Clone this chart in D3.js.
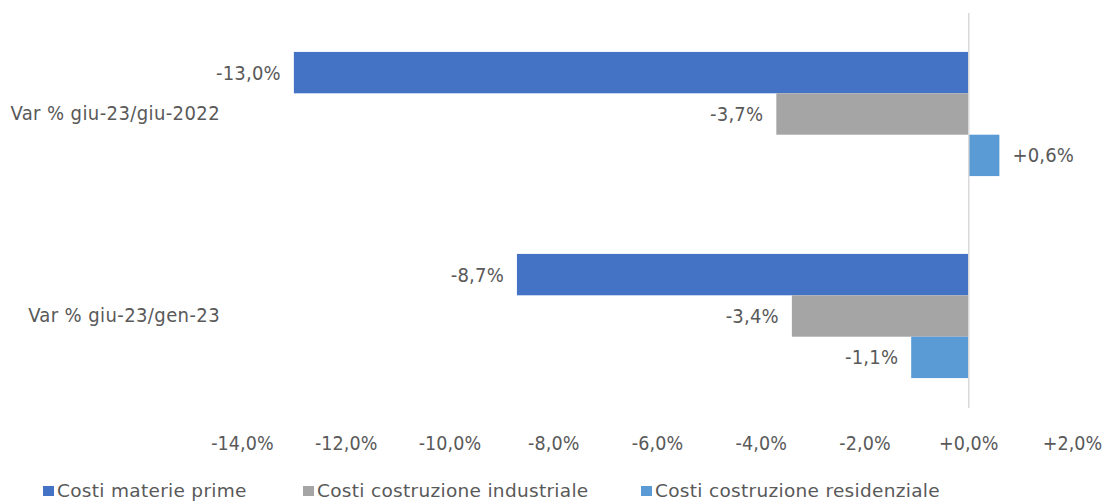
<!DOCTYPE html>
<html>
<head>
<meta charset="utf-8">
<script src="https://cdn.jsdelivr.net/npm/d3@7"></script>
<style>
  body { margin: 0; background: #fff; }
  svg text { font-family: "DejaVu Sans Condensed", "DejaVu Sans", sans-serif; fill: #595959; }
</style>
</head>
<body>
<svg id="chart" width="1102" height="501"></svg>
<script>
// Periods compared (top to bottom)
const categories = ["Var % giu-23/giu-2022", "Var % giu-23/gen-23"];
// Cost indices
const seriesNames = ["Costi materie prime", "Costi costruzione industriale", "Costi costruzione residenziale"];
const seriesColors = ["#4472c4", "#a5a5a5", "#5b9bd5"];
// Percentage changes per series, one value per period
const materiePrime = [-13.0, -8.7];
const costruzioneIndustriale = [-3.7, -3.4];
const costruzioneResidenziale = [0.6, -1.1];
const xTicks = [-14, -12, -10, -8, -6, -4, -2, 0, 2];

const values = [materiePrime, costruzioneIndustriale, costruzioneResidenziale];
const FONT = '"DejaVu Sans Condensed", "DejaVu Sans", sans-serif';

const svg = d3.select("#chart");

const x = d3.scaleLinear().domain([-14, 2]).range([242, 1072]);
const y = d3.scaleBand().domain(categories).range([13, 417]).paddingInner(0).paddingOuter(0);
const inner = d3.scaleBand().domain(d3.range(seriesNames.length))
  .range([0, y.bandwidth()]).paddingOuter(0.94).paddingInner(0);

const fmt = v => (v >= 0 ? "+" : "-") + Math.abs(v).toFixed(1).replace(".", ",") + "%";

// Bars with value labels
values.forEach((arr, s) => {
  arr.forEach((v, i) => {
    const y0 = y(categories[i]) + inner(s);
    svg.append("rect")
      .attr("x", Math.min(x(0), x(v)))
      .attr("y", y0)
      .attr("width", Math.abs(x(v) - x(0)))
      .attr("height", inner.bandwidth())
      .attr("fill", seriesColors[s]);
    const lbl = svg.append("text")
      .attr("y", y0 + inner.bandwidth() / 2)
      .attr("dy", "0.35em")
      .attr("font-size", 20)
      .style("letter-spacing", "0.2px")
      .text(fmt(v));
    if (v < 0) lbl.attr("x", x(v) - 13).attr("text-anchor", "end");
    else lbl.attr("x", x(v) + 13).attr("text-anchor", "start");
  });
});

// Vertical zero axis line
svg.append("line")
  .attr("x1", x(0) + 0.5).attr("x2", x(0) + 0.5)
  .attr("y1", 13).attr("y2", 408)
  .attr("stroke", "#d9d9d9").attr("stroke-width", 1.5);

// X axis tick labels
const xAxis = d3.axisBottom(x).tickValues(xTicks).tickSize(0).tickPadding(0).tickFormat(fmt);
const gx = svg.append("g").attr("transform", "translate(0,436)").call(xAxis);
gx.select(".domain").remove();
gx.selectAll("text").attr("font-size", 19.5).attr("fill", "#595959")
  .style("font-family", FONT).style("letter-spacing", "0.1px");

// Category labels
const yAxis = d3.axisLeft(y).tickSize(0).tickPadding(0);
const gy = svg.append("g").attr("transform", "translate(220,0)").call(yAxis);
gy.select(".domain").remove();
gy.selectAll("text").attr("font-size", 20).attr("fill", "#595959")
  .style("font-family", FONT).style("letter-spacing", "0.4px");

// Legend
const legendX = [43, 303, 641];
seriesNames.forEach((name, s) => {
  const g = svg.append("g").attr("transform", `translate(${legendX[s]},0)`);
  g.append("rect").attr("x", 0).attr("y", 486).attr("width", 11).attr("height", 10).attr("fill", seriesColors[s]);
  g.append("text").attr("x", 14).attr("y", 497).attr("font-size", 18.5)
    .style("font-family", '"DejaVu Sans", sans-serif').style("letter-spacing", "0.3px").text(name);
});
</script>
</body>
</html>
